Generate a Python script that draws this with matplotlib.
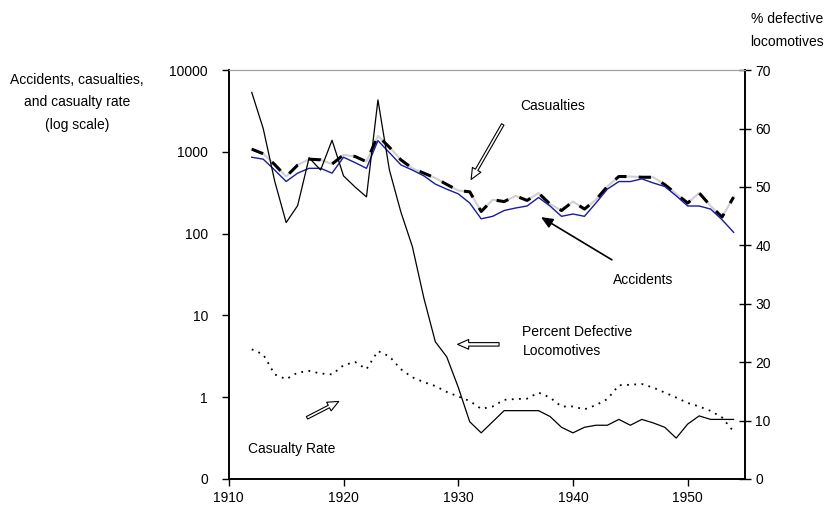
import numpy as np
import matplotlib.pyplot as plt
from matplotlib.ticker import NullLocator

plt.rcParams['font.family'] = ['Liberation Sans', 'DejaVu Sans']

# data
years = list(range(1912, 1955))
accidents = [861, 815, 600, 435, 550, 630, 630, 550, 861, 740, 630, 1375, 980,
             694, 600, 510, 404, 350, 307, 237, 152, 163, 192, 206, 218, 277,
             218, 163, 174, 163, 237, 351, 434, 434, 468, 417, 378, 290, 218,
             218, 200, 148, 104]
casualties = [1080, 950, 700, 500, 690, 815, 800, 710, 920, 880, 760, 1570, 1140,
              800, 630, 550, 480, 400, 337, 325, 187, 260, 247, 290, 255, 314,
              230, 192, 247, 200, 260, 378, 500, 500, 490, 490, 398, 307, 237,
              315, 218, 160, 280]
casualty_rate = [3.85, 3.34, 1.9, 1.66, 2.0, 2.1, 1.95, 1.9, 2.46, 2.7, 2.2, 3.67,
                 3.16, 2.2, 1.75, 1.53, 1.37, 1.16, 1.02, 0.90, 0.72, 0.77, 0.93,
                 0.95, 0.96, 1.14, 0.99, 0.77, 0.77, 0.71, 0.80, 0.95, 1.40, 1.42,
                 1.45, 1.31, 1.14, 0.99, 0.85, 0.77, 0.68, 0.565, 0.38]
pct_defective = [66.2, 60.0, 51.0, 43.9, 46.8, 55.0, 52.9, 58.0, 51.9, 50.0, 48.3,
                 64.9, 52.9, 45.7, 39.8, 31.0, 23.5, 20.9, 15.7, 9.8, 7.9, 9.8,
                 11.7, 11.7, 11.7, 11.7, 10.7, 8.85, 7.9, 8.85, 9.2, 9.2, 10.2,
                 9.2, 10.2, 9.6, 8.85, 7.0, 9.4, 10.8, 10.2, 10.2, 10.2]

fig = plt.figure(figsize=(8.26, 5.12), dpi=100)
ax = fig.add_axes([0.277, 0.0645, 0.625, 0.7985])
ax2 = ax.twinx()

ax.plot(years, casualties, color='#d0d0d0', lw=1.5)
ax.plot(years, casualties, color='black', lw=2.2, dashes=(4, 4))
ax.plot(years, accidents, color='#1a1aa0', lw=1)
ax.plot(years, casualty_rate, color='black', lw=1.3, dashes=(1, 3))
ax2.plot(years, pct_defective, color='black', lw=0.9)

ax.set_yscale('log')
ax.set_ylim(0.1, 10000)
ax.set_yticks([0.1, 1, 10, 100, 1000, 10000])
ax.set_yticklabels(['0', '1', '10', '100', '1000', '10000'])
ax.yaxis.set_minor_locator(NullLocator())
ax.set_xlim(1910, 1955)
ax.set_xticks([1910, 1920, 1930, 1940, 1950])
ax2.set_ylim(0, 70)
ax2.set_yticks(range(0, 71, 10))

ax.tick_params(axis='both', labelsize=10, length=5, width=1, direction='out')
ax.tick_params(axis='y', pad=10)
ax2.tick_params(axis='y', labelsize=10, length=8, width=1, direction='inout')
for a in (ax, ax2):
    a.spines['top'].set_color('#a0a0a0')
    a.spines['left'].set_linewidth(1.2)
    a.spines['bottom'].set_linewidth(1.2)
    a.spines['right'].set_linewidth(1.2)

# annotations
ax.annotate('', xy=(1931.0, 430), xytext=(1934.0, 2320),
            arrowprops=dict(arrowstyle='simple,head_length=0.8,head_width=0.7,tail_width=0.2',
                            fc='white', ec='black', lw=0.8))
ax.text(1938.2, 3650, 'Casualties', fontsize=10, ha='center', va='center')
ax.annotate('', xy=(1937.0, 166), xytext=(1943.6, 46),
            arrowprops=dict(arrowstyle='-|>,head_length=0.7,head_width=0.3',
                            fc='black', ec='black', lw=1.2))
ax.text(1946.1, 27.5, 'Accidents', fontsize=10, ha='center', va='center')
ax.annotate('', xy=(1929.7, 4.43), xytext=(1933.8, 4.43),
            arrowprops=dict(arrowstyle='simple,head_length=0.8,head_width=0.7,tail_width=0.25',
                            fc='white', ec='black', lw=0.8))
ax.text(1935.6, 4.8, 'Percent Defective\nLocomotives', fontsize=10, ha='left', va='center',
        linespacing=1.5)
ax.annotate('', xy=(1919.8, 0.92), xytext=(1916.6, 0.54),
            arrowprops=dict(arrowstyle='simple,head_length=0.8,head_width=0.7,tail_width=0.2',
                            fc='white', ec='black', lw=0.8))
ax.text(1911.7, 0.232, 'Casualty Rate', fontsize=10, ha='left', va='center')

fig.text(0.093, 0.8, 'Accidents, casualties,\nand casualty rate\n(log scale)',
         fontsize=10, ha='center', va='center', linespacing=1.75)
fig.text(0.953, 0.94, '% defective\nlocomotives', fontsize=10, ha='center', va='center',
         linespacing=1.8)

fig.savefig('out.png', dpi=100)
